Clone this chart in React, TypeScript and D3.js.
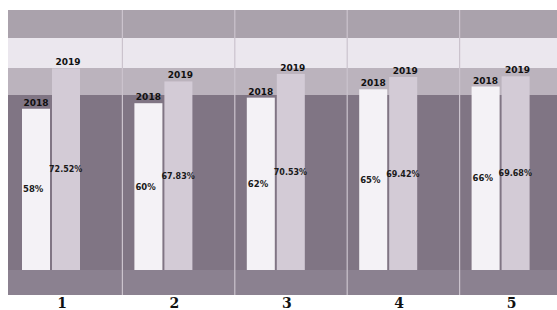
import React from "react";
import * as d3 from "d3";

const categories = ["1", "2", "3", "4", "5"];
const values2018 = [58, 60, 62, 65, 66];
const values2019 = [72.52, 67.83, 70.53, 69.42, 69.68];
const labels2018 = ["58%", "60%", "62%", "65%", "66%"];
const labels2019 = ["72.52%", "67.83%", "70.53%", "69.42%", "69.68%"];
const seriesNames = ["2018", "2019"];

const W = 557;
const H = 310;

export default function App() {
  const x = d3.scaleBand<string>().domain(categories).range([0, 562]).padding(0);
  const y = d3.scaleLinear().domain([0, 100]).range([260, -18]);
  const bw = 28;
  const off2018 = 14;
  const off2019 = 44;
  const base = y(0);

  const bands = [
    { y0: 0, y1: 28, c: "#aaa2ac" },
    { y0: 28, y1: 58, c: "#ebe7ee" },
    { y0: 58, y1: 85, c: "#bbb3bd" },
    { y0: 85, y1: base, c: "#807584" },
    { y0: base, y1: 285, c: "#8b8190" },
  ];

  return (
    <svg width={W} height={H} style={{ display: "block", position: "absolute", left: 0, top: 0 }}>
      <rect x={0} y={0} width={W} height={H} fill="#ffffff" />
      <g transform="translate(8,10)">
        {bands.map((b, i) => (
          <rect key={i} x={0} y={b.y0} width={W - 8} height={b.y1 - b.y0} fill={b.c} />
        ))}
        {categories.slice(1).map((c) => (
          <line key={c} x1={(x(c) ?? 0) + 2} x2={(x(c) ?? 0) + 2} y1={0} y2={285} stroke="#cbc3cd" strokeWidth={1.2} />
        ))}
        {categories.map((c, i) => {
          const gx = x(c) ?? 0;
          const t18 = y(values2018[i]);
          const t19 = y(values2019[i]);
          return (
            <g key={c}>
              <rect x={gx + off2018} y={t18} width={bw} height={base - t18} fill="#f4f2f6" />
              <rect x={gx + off2019} y={t19} width={bw} height={base - t19} fill="#d3cbd6" />
              <text x={gx + off2018 + bw / 2} y={t18 - 3} textAnchor="middle" fontFamily="DejaVu Sans" fontWeight="bold" fontSize={9} fill="#111">
                {seriesNames[0]}
              </text>
              <text x={gx + off2019 + bw / 2 + 2} y={t19 - 3} textAnchor="middle" fontFamily="DejaVu Sans" fontWeight="bold" fontSize={9} fill="#111">
                {seriesNames[1]}
              </text>
              <text x={gx + off2018 + 1} y={(t18 + base) / 2 + 3} fontFamily="DejaVu Sans" fontWeight="bold" fontSize={8.5} fill="#1a1a1a">
                {labels2018[i]}
              </text>
              <text x={gx + off2019 - 3} y={(t19 + base) / 2 + 3} fontFamily="DejaVu Sans" fontWeight="bold" fontSize={8} fill="#1a1a1a">
                {labels2019[i]}
              </text>
              <text x={gx + 54} y={298} textAnchor="middle" fontFamily="DejaVu Serif" fontWeight="bold" fontSize={14} fill="#111">
                {c}
              </text>
            </g>
          );
        })}
      </g>
    </svg>
  );
}
